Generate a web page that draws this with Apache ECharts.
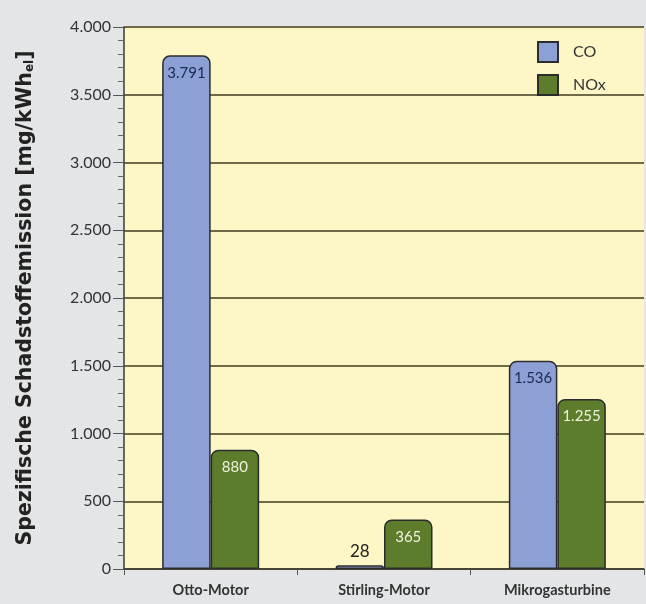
<!DOCTYPE html>
<html>
<head>
<meta charset="utf-8">
<script src="https://cdn.jsdelivr.net/npm/echarts@6/dist/echarts.min.js"></script>
<style>
  html, body { margin: 0; padding: 0; background: #e3e5e7; }
  #chart { width: 646px; height: 604px; }
</style>
</head>
<body>
<div id="chart"></div>
<script>
// Emission data per engine type
const categories = ['Otto-Motor', 'Stirling-Motor', 'Mikrogasturbine'];
const coValues = [3791, 28, 1536];
const noxValues = [880, 365, 1255];
const seriesNames = ['CO', 'NOx'];

// German thousands separator
function fmt(v) {
  return String(v).replace(/\B(?=(\d{3})+(?!\d))/g, '.');
}

const chart = echarts.init(document.getElementById('chart'));

const labelFont = 'Lato, "Open Sans", sans-serif';
const nameFont = '"DejaVu Sans", "Liberation Sans", sans-serif';

chart.setOption({
  backgroundColor: '#e3e5e7',
  animation: false,
  grid: {
    left: 124, right: 2, top: 27, bottom: 35,
    show: true, backgroundColor: '#fdf6c6', borderWidth: 0
  },
  legend: {
    orient: 'vertical',
    left: 532, top: 36,
    itemWidth: 20, itemHeight: 20, itemGap: 11,
    icon: 'rect',
    textStyle: { fontFamily: labelFont, fontSize: 16, color: '#333', padding: [0, 0, 0, 10] },
    data: seriesNames
  },
  xAxis: {
    type: 'category',
    data: categories,
    axisLine: { lineStyle: { color: '#3a3a30', width: 1.5 } },
    axisTick: { show: true, length: 6, lineStyle: { color: '#555' } },
    axisLabel: { margin: 14, fontFamily: labelFont, fontSize: 14.5, fontWeight: 'bold', color: '#333' }
  },
  yAxis: {
    type: 'value',
    min: 0, max: 4000, interval: 500,
    name: 'Spezifische Schadstoffemission [mg/kWh{sub|el}]',
    nameLocation: 'middle',
    nameGap: 88,
    nameTextStyle: {
      fontFamily: nameFont,
      fontSize: 20.5, fontWeight: 'bold', color: '#222',
      rich: {
        sub: { fontFamily: nameFont, fontSize: 12, fontWeight: 'bold', color: '#222', verticalAlign: 'bottom', padding: [9, 0, 0, 0] }
      }
    },
    axisLine: { show: true, lineStyle: { color: '#3a3a30', width: 1.5 } },
    axisTick: { show: true, length: 11, lineStyle: { color: '#555', width: 1 } },
    minorTick: { show: true, splitNumber: 5, length: 6, lineStyle: { color: '#666', width: 1 } },
    axisLabel: { margin: 13, fontFamily: labelFont, fontSize: 16, color: '#333', formatter: fmt },
    splitLine: { show: true, lineStyle: { color: '#6f6a48', width: 1.8 } }
  },
  series: [
    {
      name: seriesNames[0],
      type: 'bar',
      data: coValues.map(v => v < 100
        ? { value: v, label: { position: 'top', distance: 5, color: '#222', fontSize: 17 } }
        : v),
      barWidth: 48.5,
      barGap: '0%',
      itemStyle: { color: '#8ca0d6', borderColor: '#2c2c2c', borderWidth: 1.5, borderRadius: [7, 7, 0, 0] },
      label: {
        show: true, position: 'insideTop', distance: 10,
        fontFamily: labelFont, fontSize: 15, color: '#1c2a4d', formatter: p => fmt(p.value)
      }
    },
    {
      name: seriesNames[1],
      type: 'bar',
      data: noxValues,
      barWidth: 48.5,
      barGap: '0%',
      itemStyle: { color: '#5d7c2c', borderColor: '#2c2c2c', borderWidth: 1.5, borderRadius: [7, 7, 0, 0] },
      label: {
        show: true, position: 'insideTop', distance: 10,
        fontFamily: labelFont, fontSize: 15, color: '#eef2dc', formatter: p => fmt(p.value)
      }
    }
  ]
});
</script>
</body>
</html>
